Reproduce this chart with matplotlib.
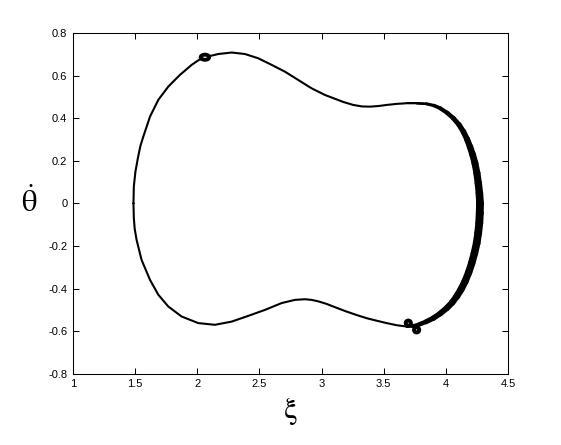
import numpy as np
import matplotlib
matplotlib.use("Agg")
from matplotlib import pyplot as plt
from matplotlib.collections import LineCollection
from matplotlib.patches import Ellipse

# orbit (xi, theta_dot), clockwise from the left edge
orbit_xi = [1.487, 1.490, 1.503, 1.525, 1.543, 1.566, 1.620, 1.687, 1.767, 1.861,
            1.955, 2.010, 2.062, 2.169, 2.277, 2.384, 2.491, 2.599, 2.706, 2.813,
            2.920, 3.027, 3.094, 3.175, 3.255, 3.325, 3.390, 3.460, 3.524, 3.605,
            3.685, 3.765, 3.846, 3.905, 3.953, 4.010, 4.060, 4.105, 4.141, 4.170,
            4.194, 4.216, 4.234, 4.250, 4.261, 4.270, 4.275, 4.273, 4.269, 4.260,
            4.248, 4.230, 4.208, 4.183, 4.154, 4.122, 4.087, 4.050, 4.007, 3.955,
            3.899, 3.840, 3.778, 3.730, 3.685, 3.605, 3.524, 3.445, 3.363, 3.282,
            3.202, 3.120, 3.041, 2.974, 2.920, 2.867, 2.786, 2.679, 2.545, 2.411,
            2.277, 2.142, 2.008, 1.874, 1.767, 1.687, 1.620, 1.552, 1.512, 1.497,
            1.490, 1.487]
orbit_thd = [0.000, 0.080, 0.150, 0.220, 0.270, 0.313, 0.407, 0.486, 0.548, 0.603,
             0.650, 0.672, 0.686, 0.701, 0.708, 0.701, 0.681, 0.650, 0.618, 0.579,
             0.540, 0.509, 0.494, 0.476, 0.462, 0.455, 0.454, 0.457, 0.462, 0.467,
             0.470, 0.470, 0.467, 0.459, 0.447, 0.425, 0.400, 0.370, 0.337, 0.302,
             0.266, 0.228, 0.189, 0.142, 0.095, 0.048, 0.001, -0.046, -0.093, -0.140,
             -0.187, -0.234, -0.281, -0.325, -0.367, -0.404, -0.437, -0.466, -0.492, -0.517,
             -0.539, -0.556, -0.570, -0.576, -0.578, -0.572, -0.562, -0.551, -0.539, -0.524,
             -0.508, -0.490, -0.472, -0.460, -0.453, -0.450, -0.453, -0.468, -0.500, -0.528,
             -0.555, -0.570, -0.562, -0.531, -0.484, -0.429, -0.359, -0.265, -0.171, -0.120,
             -0.070, 0.000]

# small loops where the trajectory winds on itself
knot_xi = [2.062, 3.698, 3.765]
knot_thd = [0.686, -0.562, -0.594]

xticks = [1, 1.5, 2, 2.5, 3, 3.5, 4, 4.5]
xtick_labels = ['1', '1.5', '2', '2.5', '3', '3.5', '4', '4.5']
yticks = [-0.8, -0.6, -0.4, -0.2, 0, 0.2, 0.4, 0.6, 0.8]
ytick_labels = ['-0.8', '-0.6', '-0.4', '-0.2', '0', '0.2', '0.4', '0.6', '0.8']

plt.rcParams['font.family'] = ['Liberation Sans', 'DejaVu Sans']
plt.rcParams['mathtext.fontset'] = 'stix'

fig = plt.figure(figsize=(5.61, 4.45), dpi=100)
ax = fig.add_axes([0.130, 0.160, 0.7755, 0.766])

ax.plot(orbit_xi, orbit_thd, color='k', lw=1.5,
        solid_joinstyle='round', solid_capstyle='round')

# right-hand side is smeared into a thick band by the slow drift
xi = np.array(orbit_xi)
thd = np.array(orbit_thd)
band = slice(30, 65)
pts = np.column_stack([xi[band], thd[band]])
segs = np.stack([pts[:-1], pts[1:]], axis=1)
t = np.linspace(0, 1, len(segs))
widths_px = np.interp(t, [0, 0.08, 0.3, 0.5, 0.75, 0.92, 1],
                      [2, 3.5, 6.5, 8, 7, 5, 3])
ax.add_collection(LineCollection(segs, linewidths=widths_px / 1.389, colors='k',
                                 capstyle='round', joinstyle='round'))

knot_w = [0.068, 0.042, 0.042]
knot_h = [0.024, 0.024, 0.024]
for kx, ky, kw, kh in zip(knot_xi, knot_thd, knot_w, knot_h):
    ax.add_patch(Ellipse((kx, ky), kw, kh, facecolor='white',
                         edgecolor='k', lw=2.8, zorder=3))

ax.set_xlim(1, 4.5)
ax.set_ylim(-0.8, 0.8)
ax.set_xticks(xticks)
ax.set_xticklabels(xtick_labels)
ax.set_yticks(yticks)
ax.set_yticklabels(ytick_labels)
ax.tick_params(direction='in', length=4, width=0.75, top=True, right=True,
               labelsize=8, pad=4)
for sp in ax.spines.values():
    sp.set_linewidth(0.75)

ax.set_xlabel(r'$\mathrm{\xi}$', fontsize=22, labelpad=4)
ax.set_ylabel(r'$\dot{\mathrm{\theta}}$', fontsize=22, rotation=0,
              labelpad=14, va='center')

fig.savefig('out.png', dpi=100)
